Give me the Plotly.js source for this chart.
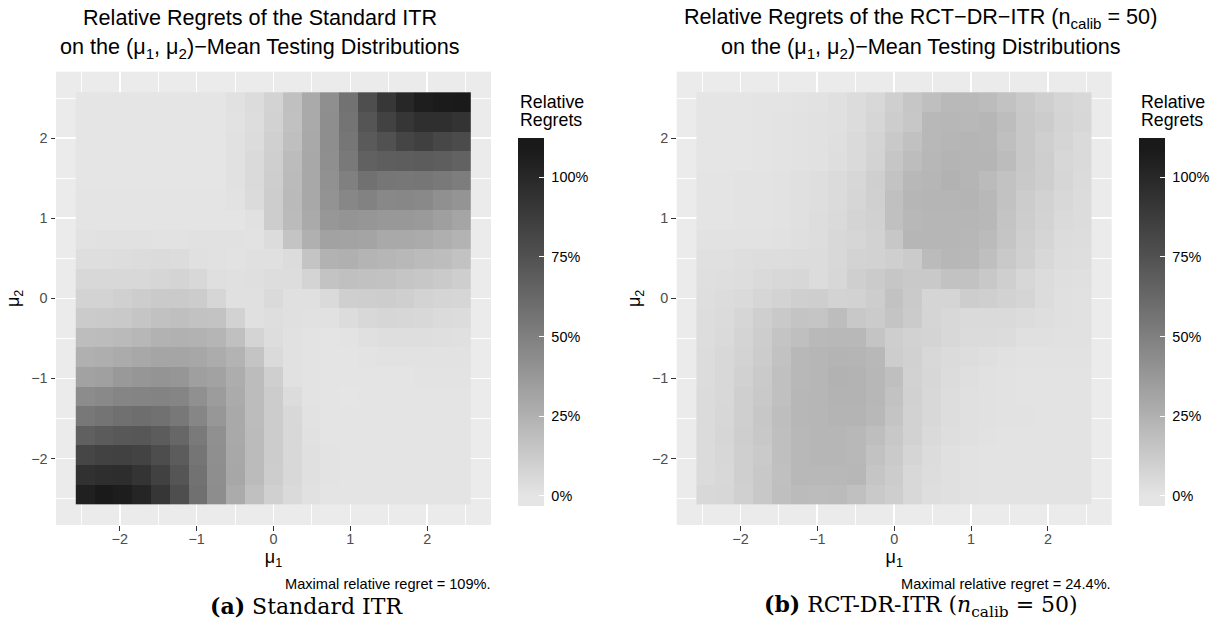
<!DOCTYPE html>
<html><head><meta charset="utf-8">
<script src="https://cdn.plot.ly/plotly-3.0.1.min.js"></script>
<style>html,body{margin:0;padding:0;background:#fff}#chart{width:1228px;height:630px}</style>
</head><body><div id="chart"></div>
<script>
// ---- data ----
const mu1 = [-2.45,-2.205,-1.96,-1.715,-1.47,-1.225,-0.98,-0.735,-0.49,-0.245,0,0.245,0.49,0.735,0.98,1.225,1.47,1.715,1.96,2.205,2.45];
const mu2 = [2.45,2.205,1.96,1.715,1.47,1.225,0.98,0.735,0.49,0.245,0,-0.245,-0.49,-0.735,-0.98,-1.225,-1.47,-1.715,-1.96,-2.205,-2.45];

// relative regrets of the standard ITR, rows from mu2 = 2.45 (top) to -2.45 (bottom)
const regretStandard = [
[0,0,0,0,0,0,0,0,0.019,0.042,0.085,0.177,0.285,0.421,0.573,0.771,0.906,1.005,1.063,1.08,1.09],
[0,0,0,0,0,0,0,0,0.014,0.038,0.090,0.172,0.285,0.426,0.562,0.731,0.840,0.912,0.954,0.954,0.930],
[0,0,0,0,0,0,0,0,0.019,0.042,0.100,0.181,0.290,0.426,0.551,0.703,0.754,0.823,0.852,0.811,0.788],
[0,0,0,0,0,0,0,0,0.019,0.052,0.104,0.196,0.295,0.421,0.535,0.665,0.681,0.687,0.692,0.681,0.659],
[0,0,0,0,0,0,0,0,0.019,0.052,0.109,0.201,0.295,0.411,0.499,0.578,0.551,0.546,0.551,0.535,0.514],
[0.005,0.005,0.005,0.005,0.005,0.005,0.005,0.005,0.014,0.047,0.114,0.206,0.295,0.400,0.462,0.488,0.457,0.462,0.452,0.416,0.395],
[0.005,0.005,0.005,0.005,0.005,0.005,0.005,0.005,0.005,0.019,0.114,0.201,0.285,0.380,0.395,0.385,0.375,0.375,0.365,0.340,0.310],
[0.014,0.019,0.019,0.019,0.014,0.014,0.019,0.019,0.019,0.014,0.042,0.157,0.255,0.325,0.320,0.315,0.290,0.290,0.280,0.260,0.240],
[0.033,0.033,0.038,0.042,0.047,0.042,0.024,0.019,0.014,0.024,0.024,0.042,0.157,0.245,0.255,0.235,0.225,0.216,0.201,0.191,0.167],
[0.057,0.057,0.061,0.061,0.071,0.081,0.057,0.028,0.024,0.028,0.038,0.038,0.081,0.162,0.177,0.172,0.167,0.152,0.143,0.128,0.109],
[0.085,0.085,0.100,0.114,0.128,0.128,0.119,0.071,0.024,0.024,0.052,0.024,0.024,0.052,0.104,0.109,0.114,0.104,0.085,0.076,0.071],
[0.123,0.128,0.133,0.152,0.172,0.181,0.167,0.162,0.090,0.024,0.033,0.024,0.019,0.019,0.042,0.061,0.071,0.066,0.057,0.047,0.042],
[0.191,0.196,0.206,0.221,0.245,0.250,0.245,0.230,0.177,0.081,0.038,0.019,0.009,0.005,0.009,0.024,0.033,0.033,0.033,0.028,0.024],
[0.255,0.265,0.280,0.295,0.310,0.310,0.300,0.275,0.240,0.157,0.052,0.019,0.009,0.005,0.005,0.009,0.014,0.014,0.014,0.014,0.014],
[0.325,0.335,0.370,0.385,0.395,0.385,0.340,0.325,0.270,0.196,0.104,0.019,0.009,0.005,0.005,0.005,0.005,0.005,0.009,0.009,0.009],
[0.436,0.452,0.472,0.478,0.483,0.472,0.416,0.355,0.280,0.196,0.119,0.042,0.009,0.005,0,0.005,0.005,0.005,0.005,0.005,0.005],
[0.541,0.562,0.583,0.594,0.578,0.541,0.467,0.380,0.290,0.196,0.119,0.057,0.014,0.005,0.005,0.005,0.005,0.005,0.005,0.005,0.005],
[0.670,0.698,0.714,0.720,0.692,0.632,0.530,0.416,0.290,0.201,0.119,0.061,0.019,0.005,0.005,0.005,0.005,0.005,0.005,0.005,0.005],
[0.817,0.840,0.846,0.834,0.777,0.692,0.556,0.421,0.295,0.201,0.119,0.061,0.024,0.009,0.005,0.005,0.005,0.005,0.005,0.005,0.005],
[0.942,0.960,0.967,0.924,0.846,0.731,0.573,0.426,0.300,0.201,0.114,0.061,0.024,0.009,0.005,0.005,0.005,0.005,0.005,0.005,0.005],
[1.050,1.090,1.070,1.018,0.912,0.771,0.583,0.431,0.280,0.177,0.100,0.052,0.019,0.005,0.005,0.005,0.005,0.005,0.005,0.005,0.005]
];

// relative regrets of the RCT-DR-ITR (n_calib = 50), same layout
const regretRctDr = [
[0,0,0,0.005,0.005,0.009,0.014,0.024,0.042,0.061,0.104,0.148,0.181,0.211,0.211,0.196,0.167,0.133,0.104,0.076,0.061],
[0,0,0,0.005,0.009,0.014,0.019,0.024,0.042,0.071,0.114,0.143,0.216,0.222,0.216,0.228,0.191,0.138,0.119,0.081,0.066],
[0,0,0,0.005,0.009,0.014,0.019,0.028,0.052,0.081,0.133,0.172,0.218,0.226,0.232,0.226,0.181,0.138,0.104,0.076,0.052],
[0,0,0,0.005,0.009,0.014,0.019,0.033,0.052,0.085,0.148,0.191,0.224,0.238,0.230,0.232,0.196,0.138,0.109,0.066,0.052],
[0.005,0.005,0.009,0.009,0.014,0.024,0.033,0.047,0.066,0.104,0.162,0.216,0.228,0.244,0.232,0.201,0.167,0.133,0.109,0.071,0.047],
[0.005,0.005,0.009,0.009,0.014,0.024,0.033,0.047,0.071,0.100,0.177,0.226,0.232,0.232,0.234,0.220,0.167,0.119,0.090,0.061,0.042],
[0.005,0.005,0.009,0.009,0.014,0.024,0.038,0.052,0.081,0.095,0.177,0.220,0.226,0.228,0.226,0.216,0.157,0.114,0.085,0.052,0.042],
[0.014,0.014,0.014,0.014,0.019,0.028,0.038,0.057,0.071,0.090,0.143,0.226,0.228,0.226,0.222,0.201,0.152,0.104,0.076,0.042,0.038],
[0.024,0.024,0.033,0.038,0.038,0.042,0.042,0.057,0.085,0.090,0.104,0.123,0.201,0.224,0.218,0.181,0.133,0.100,0.061,0.038,0.033],
[0.028,0.033,0.038,0.052,0.057,0.066,0.042,0.066,0.104,0.123,0.148,0.133,0.133,0.167,0.167,0.138,0.104,0.066,0.042,0.028,0.024],
[0.033,0.042,0.052,0.071,0.085,0.104,0.109,0.085,0.090,0.114,0.167,0.128,0.076,0.076,0.114,0.104,0.090,0.076,0.042,0.024,0.019],
[0.038,0.047,0.071,0.104,0.133,0.157,0.152,0.191,0.138,0.123,0.157,0.123,0.076,0.061,0.052,0.052,0.052,0.042,0.033,0.024,0.019],
[0.038,0.052,0.081,0.114,0.157,0.181,0.211,0.216,0.216,0.157,0.109,0.090,0.081,0.061,0.047,0.047,0.042,0.024,0.024,0.019,0.019],
[0.042,0.057,0.085,0.119,0.167,0.218,0.226,0.234,0.230,0.216,0.114,0.095,0.061,0.047,0.038,0.028,0.019,0.014,0.014,0.014,0.014],
[0.042,0.061,0.095,0.128,0.177,0.220,0.228,0.244,0.242,0.224,0.181,0.090,0.066,0.042,0.028,0.019,0.014,0.009,0.009,0.009,0.009],
[0.047,0.061,0.104,0.133,0.177,0.224,0.228,0.242,0.242,0.224,0.167,0.095,0.061,0.038,0.024,0.019,0.014,0.009,0.009,0.009,0.009],
[0.047,0.066,0.104,0.143,0.186,0.224,0.228,0.236,0.234,0.218,0.157,0.090,0.057,0.038,0.024,0.019,0.014,0.014,0.009,0.009,0.009],
[0.047,0.071,0.109,0.138,0.181,0.220,0.226,0.226,0.216,0.186,0.138,0.090,0.052,0.033,0.024,0.014,0.009,0.009,0.009,0.009,0.009],
[0.047,0.066,0.104,0.128,0.181,0.218,0.226,0.226,0.216,0.167,0.128,0.076,0.042,0.024,0.014,0.009,0.009,0.009,0.009,0.009,0.009],
[0.047,0.061,0.104,0.138,0.177,0.220,0.216,0.216,0.222,0.152,0.119,0.061,0.038,0.024,0.014,0.009,0.009,0.009,0.009,0.009,0.009],
[0.061,0.066,0.100,0.138,0.181,0.201,0.196,0.201,0.177,0.133,0.109,0.057,0.033,0.024,0.014,0.009,0.009,0.009,0.009,0.009,0.009]
];

const legendTicks = [0, 0.25, 0.5, 0.75, 1];
const legendTickText = ['0%', '25%', '50%', '75%', '100%'];
const axisTicks = [-2, -1, 0, 1, 2];
const axisTickText = ['\u22122', '\u22121', '0', '1', '2'];
const maxRegretText = ['109%', '24.4%'];

// ---- colour scale: Lab-lightness gradient grey90 -> grey10 over [0, limit] ----
const limit = 1.09;
const zmin = -0.0314, zmax = 1.1244;
function lOfGrey(g){ const s = Math.pow((g/255 + 0.055)/1.055, 2.4); return 116*Math.cbrt(s) - 16; }
function greyOfL(L){
  const fy = (L + 16)/116;
  const Y = fy > 6/29 ? fy*fy*fy : 3*(6/29)*(6/29)*(fy - 4/29);
  const c = Y <= 0.0031308 ? 12.92*Y : 1.055*Math.pow(Y, 1/2.4) - 0.055;
  const v = Math.round(Math.max(0, Math.min(1, c))*255);
  return 'rgb(' + v + ',' + v + ',' + v + ')';
}
const Llow = lOfGrey(229), Lhigh = lOfGrey(26);
const cscale = [[0, greyOfL(Llow)]];
for (let k = 0; k <= 20; k++) {
  const val = limit*k/20;
  cscale.push([(val - zmin)/(zmax - zmin), greyOfL(Llow + (Lhigh - Llow)*k/20)]);
}
cscale.push([1, greyOfL(Lhigh)]);

const W = 1228, H = 630;
const px = x => x/W, py = y => 1 - y/H;
const font = 'Liberation Sans, Arial, Helvetica, sans-serif';

function heat(z, xa, ya, cbx) {
  return {
    type: 'heatmap', x: mu1, y: mu2, z: z, xaxis: xa, yaxis: ya,
    zmin: zmin, zmax: zmax, colorscale: cscale, zsmooth: false, hoverinfo: 'skip',
    colorbar: {
      x: px(cbx), xanchor: 'left', xpad: 0, ypad: 0,
      y: py(321.7), yanchor: 'middle', len: 368, lenmode: 'pixels',
      thickness: 26, thicknessmode: 'pixels', outlinewidth: 0,
      tickmode: 'array', tickvals: legendTicks,
      ticktext: legendTickText.map(t => '\u00a0' + t),
      ticks: 'inside', ticklen: 5, tickcolor: '#ffffff', tickwidth: 1,
      tickfont: {family: font, size: 14.4, color: '#000000'}
    }
  };
}

function xaxisDef(x0, x1) {
  return {
    domain: [px(x0), px(x1)], range: [-2.83, 2.83],
    tickmode: 'array', tickvals: axisTicks, ticktext: axisTickText,
    ticks: 'outside', ticklen: 4.5, tickwidth: 1.1, tickcolor: '#333333',
    ticklabelstandoff: -4,
    tickfont: {family: font, size: 14.4, color: '#4d4d4d'},
    showgrid: true, gridcolor: '#ffffff', gridwidth: 1.7, zeroline: false, showline: false,
    minor: {dtick: 0.5, tick0: 0, showgrid: true, gridcolor: '#ffffff', gridwidth: 0.9, ticks: ''},
    title: {text: '\u03bc<sub>1</sub>', font: {family: font, size: 18, color: '#000'}, standoff: 0},
    fixedrange: true
  };
}
function yaxisDef() {
  return {
    domain: [py(525), py(71.7)], range: [-2.83, 2.83],
    tickmode: 'array', tickvals: axisTicks, ticktext: axisTickText,
    ticks: 'outside', ticklen: 4.5, tickwidth: 1.1, tickcolor: '#333333',
    tickfont: {family: font, size: 14.4, color: '#4d4d4d'},
    showgrid: true, gridcolor: '#ffffff', gridwidth: 1.7, zeroline: false, showline: false,
    minor: {dtick: 0.5, tick0: 0, showgrid: true, gridcolor: '#ffffff', gridwidth: 0.9, ticks: ''},
    title: {text: '\u03bc<sub>2</sub>', font: {family: font, size: 18, color: '#000'}, standoff: 6},
    fixedrange: true
  };
}

const xa1 = xaxisDef(56, 491); xa1.anchor = 'y';
const xa2 = xaxisDef(676.7, 1111.7); xa2.anchor = 'y2';
const ya1 = yaxisDef(); ya1.anchor = 'x';
const ya2 = yaxisDef(); ya2.anchor = 'x2';

function ann(text, x, y, size, opts) {
  return Object.assign({xref: 'paper', yref: 'paper', x: px(x), y: py(y), text: text, showarrow: false,
    xanchor: 'center', yanchor: 'middle', font: {family: font, size: size, color: '#000'}}, opts || {});
}
const serif = 'DejaVu Serif, Liberation Serif, serif';
const line2 = 'on the (\u03bc<sub>1</sub>, \u03bc<sub>2</sub>)\u2212Mean Testing Distributions';
const annotations = [
  ann('Relative Regrets of the Standard ITR', 260.4, 17.5, 21.6),
  ann(line2, 259.8, 48, 21.6),
  ann('Relative Regrets of the RCT\u2212DR\u2212ITR (n<sub>calib</sub> = 50)', 920, 17.5, 21.6),
  ann(line2, 920.5, 48, 21.6),
  ann('Relative', 517.5, 102, 17.8, {xanchor: 'left'}),
  ann('Regrets', 517.5, 119.5, 17.8, {xanchor: 'left'}),
  ann('Relative', 1139, 102, 17.8, {xanchor: 'left'}),
  ann('Regrets', 1139, 119.5, 17.8, {xanchor: 'left'}),
  ann('Maximal relative regret = ' + maxRegretText[0] + '.', 493, 583.5, 14.6, {xanchor: 'right'}),
  ann('Maximal relative regret = ' + maxRegretText[1] + '.', 1113, 583.5, 14.6, {xanchor: 'right'}),
  ann('<b>(a)</b> Standard ITR', 306, 606, 22, {font: {family: serif, size: 22, color: '#000'}}),
  ann('<b>(b)</b> RCT-DR-ITR (<i>n</i><sub>calib</sub> = 50)', 921, 606, 22, {font: {family: serif, size: 22, color: '#000'}})
];

const layout = {
  width: W, height: H, margin: {l: 0, r: 0, t: 0, b: 0},
  paper_bgcolor: '#ffffff', plot_bgcolor: '#ebebeb',
  showlegend: false,
  xaxis: xa1, yaxis: ya1, xaxis2: xa2, yaxis2: ya2,
  annotations: annotations,
  font: {family: font}
};

const t1 = heat(regretStandard, 'x', 'y', 517.7);
const t2 = heat(regretRctDr, 'x2', 'y2', 1139.3);
Plotly.newPlot('chart', [t1, t2], layout, {staticPlot: true, displayModeBar: false});
</script>
</body></html>
